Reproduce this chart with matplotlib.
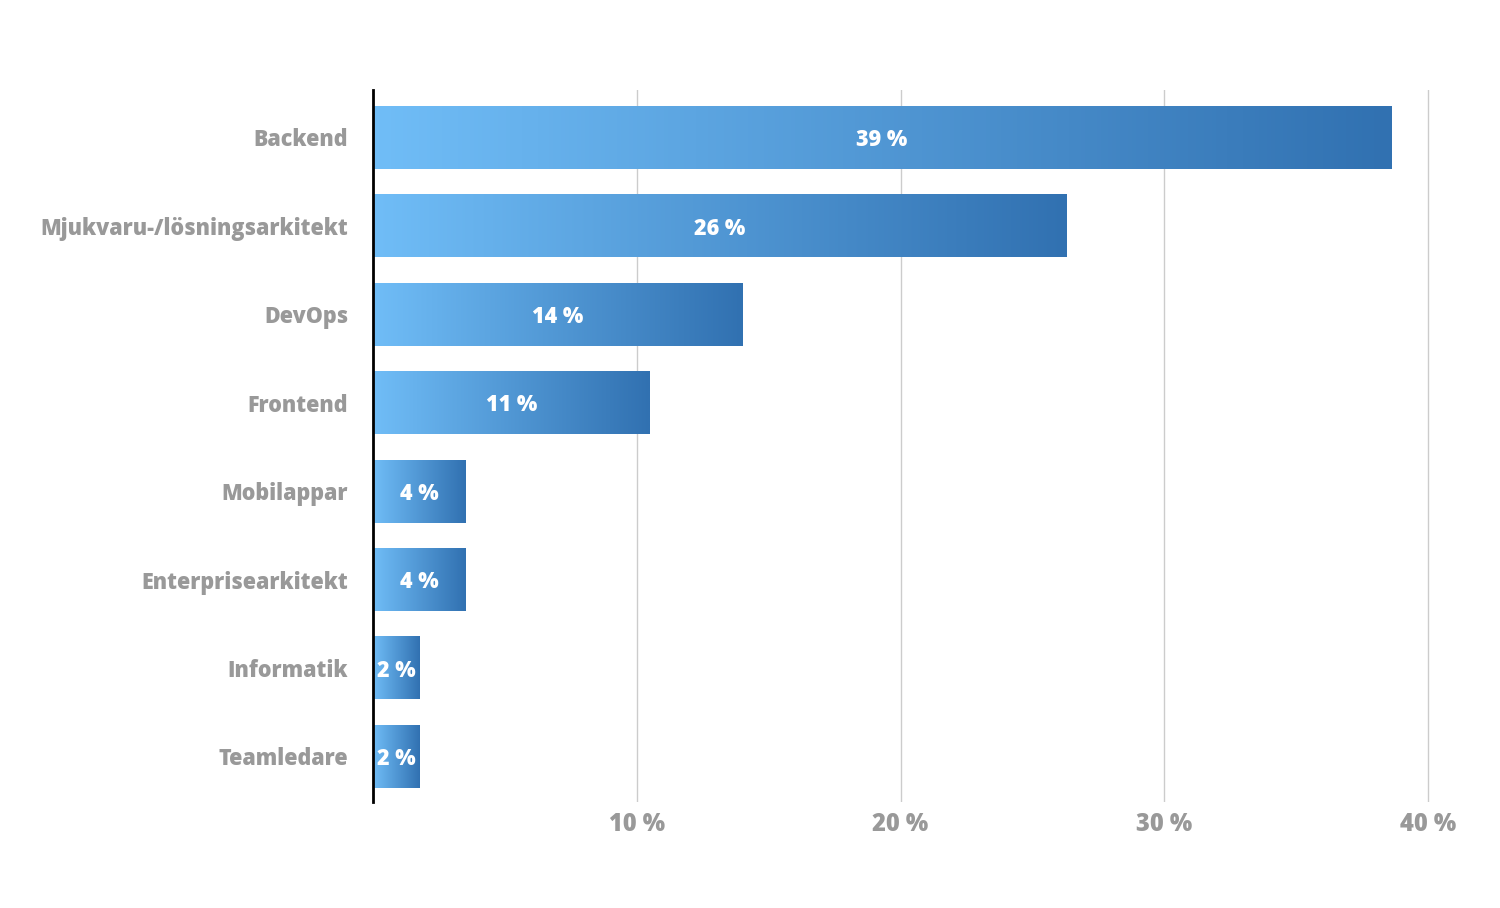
import matplotlib
matplotlib.use("Agg")
import matplotlib.pyplot as plt
import numpy as np
from matplotlib.colors import LinearSegmentedColormap

categories = ["Backend", "Mjukvaru-/lösningsarkitekt", "DevOps", "Frontend",
              "Mobilappar", "Enterprisearkitekt", "Informatik", "Teamledare"]
values = [38.6, 26.3, 14.0, 10.5, 3.5, 3.5, 1.75, 1.75]
bar_labels = ["39 %", "26 %", "14 %", "11 %", "4 %", "4 %", "2 %", "2 %"]
xticks = [10, 20, 30, 40]
xtick_labels = ["10 %", "20 %", "30 %", "40 %"]

plt.rcParams['font.family'] = ['Open Sans', 'DejaVu Sans']

fig = plt.figure(figsize=(15, 9.08), dpi=100)
px_per = (1428 - 373) / 40
right_px = 1445
ax = fig.add_axes([373/1500, 1-802/908, (right_px-373)/1500, (802-90)/908])

cmap = LinearSegmentedColormap.from_list("g", ["#70bdf7", "#3171b1"])
grad = np.linspace(0, 1, 256).reshape(1, -1)
h = 0.71
for i, (v, lab) in enumerate(zip(values, bar_labels)):
    ax.imshow(grad, extent=[0, v, i + h/2, i - h/2], aspect='auto', cmap=cmap,
              interpolation='bilinear', zorder=2)
    ax.text(v/2, i + 0.03, lab, ha='center', va='center', color='white',
            fontsize=15.5, fontweight='heavy', zorder=3)

ax.set_xlim(0, (right_px - 373) / px_per)
ax.set_ylim(7.515, -0.537)
ax.set_yticks(range(len(categories)))
ax.set_yticklabels(categories)
ax.set_xticks(xticks)
ax.set_xticklabels(xtick_labels)
ax.tick_params(axis='y', length=0, pad=18, labelsize=15.5, labelcolor='#999999')
ax.tick_params(axis='x', length=0, pad=7, labelsize=17, labelcolor='#999999')
for t in ax.get_yticklabels() + ax.get_xticklabels():
    t.set_fontweight('heavy')
ax.grid(axis='x', color='#cccccc', linewidth=1, zorder=0)
ax.set_axisbelow(True)
for s in ['top', 'right', 'bottom']:
    ax.spines[s].set_visible(False)
ax.spines['left'].set_color('black')
ax.spines['left'].set_linewidth(2)
ax.spines['left'].set_zorder(5)

fig.savefig("out.png", dpi=100)
